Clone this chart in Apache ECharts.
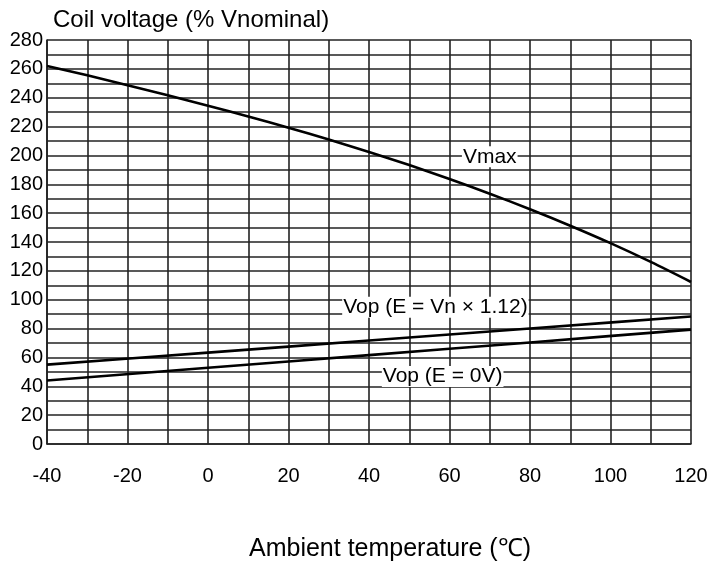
<!DOCTYPE html>
<html>
<head>
<meta charset="utf-8">
<script src="https://cdn.jsdelivr.net/npm/echarts@6/dist/echarts.min.js"></script>
<style>
    html, body { margin: 0; padding: 0; background: #fff; }
    #chart { width: 711px; height: 567px; }
</style>
</head>
<body>
<div id="chart"></div>
<script type="text/javascript">
    // values
    var temps = [-40, -30, -20, -10, 0, 10, 20, 30, 40, 50, 60, 70, 80, 90, 100, 110, 120];
    var vmax = [262, 255.5, 248.7, 241.7, 234.5, 227, 219.2, 211, 202.4, 193.3, 183.7, 173.5, 162.7, 151.3, 139.2, 126.2, 112.3];
    var vopTemps = [-40, 0, 40, 80, 120];
    var vopHigh = [55, 63.3, 71.7, 80, 88.4];
    var vopZero = [44, 52.8, 61.6, 70.4, 79.3];
    var curveLabels = [
        { name: 'Vmax', value: [70, 199] },
        { name: 'Vop (E = Vn × 1.12)', value: [56.5, 94.7] },
        { name: 'Vop (E = 0V)', value: [58.3, 46.7] }
    ];

    function pairs(xs, ys) {
        return xs.map(function (x, i) { return [x, ys[i]]; });
    }

    var font = 'Liberation Sans, Arial, sans-serif';
    var gridColor = '#222';

    var chart = echarts.init(document.getElementById('chart'));
    chart.setOption({
        animation: false,
        title: {
            text: 'Coil voltage (% Vnominal)',
            left: 48,
            top: 3,
            textStyle: { fontFamily: font, fontSize: 24, fontWeight: 'normal', color: '#000' }
        },
        grid: { left: 47, right: 20, top: 40, bottom: 113, containLabel: false },
        xAxis: {
            type: 'value',
            min: -40,
            max: 120,
            interval: 10,
            name: 'Ambient temperature (℃)',
            nameLocation: 'middle',
            nameGap: 93,
            nameTextStyle: { fontFamily: font, fontSize: 25, color: '#000', padding: [0, 0, 0, 42] },
            axisLine: { show: true, onZero: false, lineStyle: { color: gridColor, width: 1.6 } },
            axisTick: { show: false },
            axisLabel: {
                fontFamily: font, fontSize: 20, color: '#000', margin: 22,
                formatter: function (v) { return v % 20 === 0 ? v : ''; }
            },
            splitLine: { show: true, lineStyle: { color: gridColor, width: 1.6 } }
        },
        yAxis: {
            type: 'value',
            min: 0,
            max: 280,
            interval: 10,
            axisLine: { show: true, onZero: false, lineStyle: { color: gridColor, width: 1.6 } },
            axisTick: { show: false },
            axisLabel: {
                fontFamily: font, fontSize: 20, color: '#000', margin: 4,
                formatter: function (v) { return v % 20 === 0 ? v : ''; }
            },
            splitLine: { show: true, lineStyle: { color: gridColor, width: 1.6 } }
        },
        series: [
            {
                type: 'line', name: 'Vmax', data: pairs(temps, vmax), smooth: 0.3,
                showSymbol: false, lineStyle: { color: '#000', width: 2.6 }, z: 3
            },
            {
                type: 'line', name: 'Vop high', data: pairs(vopTemps, vopHigh), smooth: 0.15,
                showSymbol: false, lineStyle: { color: '#000', width: 2.6 }, z: 3
            },
            {
                type: 'line', name: 'Vop zero', data: pairs(vopTemps, vopZero), smooth: 0.15,
                showSymbol: false, lineStyle: { color: '#000', width: 2.6 }, z: 3
            },
            {
                type: 'scatter', data: curveLabels, symbolSize: 0, z: 5,
                itemStyle: { opacity: 1, color: '#fff' },
                label: {
                    show: true, position: 'inside', opacity: 1,
                    formatter: function (p) { return p.name; },
                    fontFamily: font, fontSize: 21, color: '#000',
                    textBorderWidth: 0,
                    backgroundColor: '#fff', padding: [0, 1]
                }
            }
        ]
    });
</script>
</body>
</html>
